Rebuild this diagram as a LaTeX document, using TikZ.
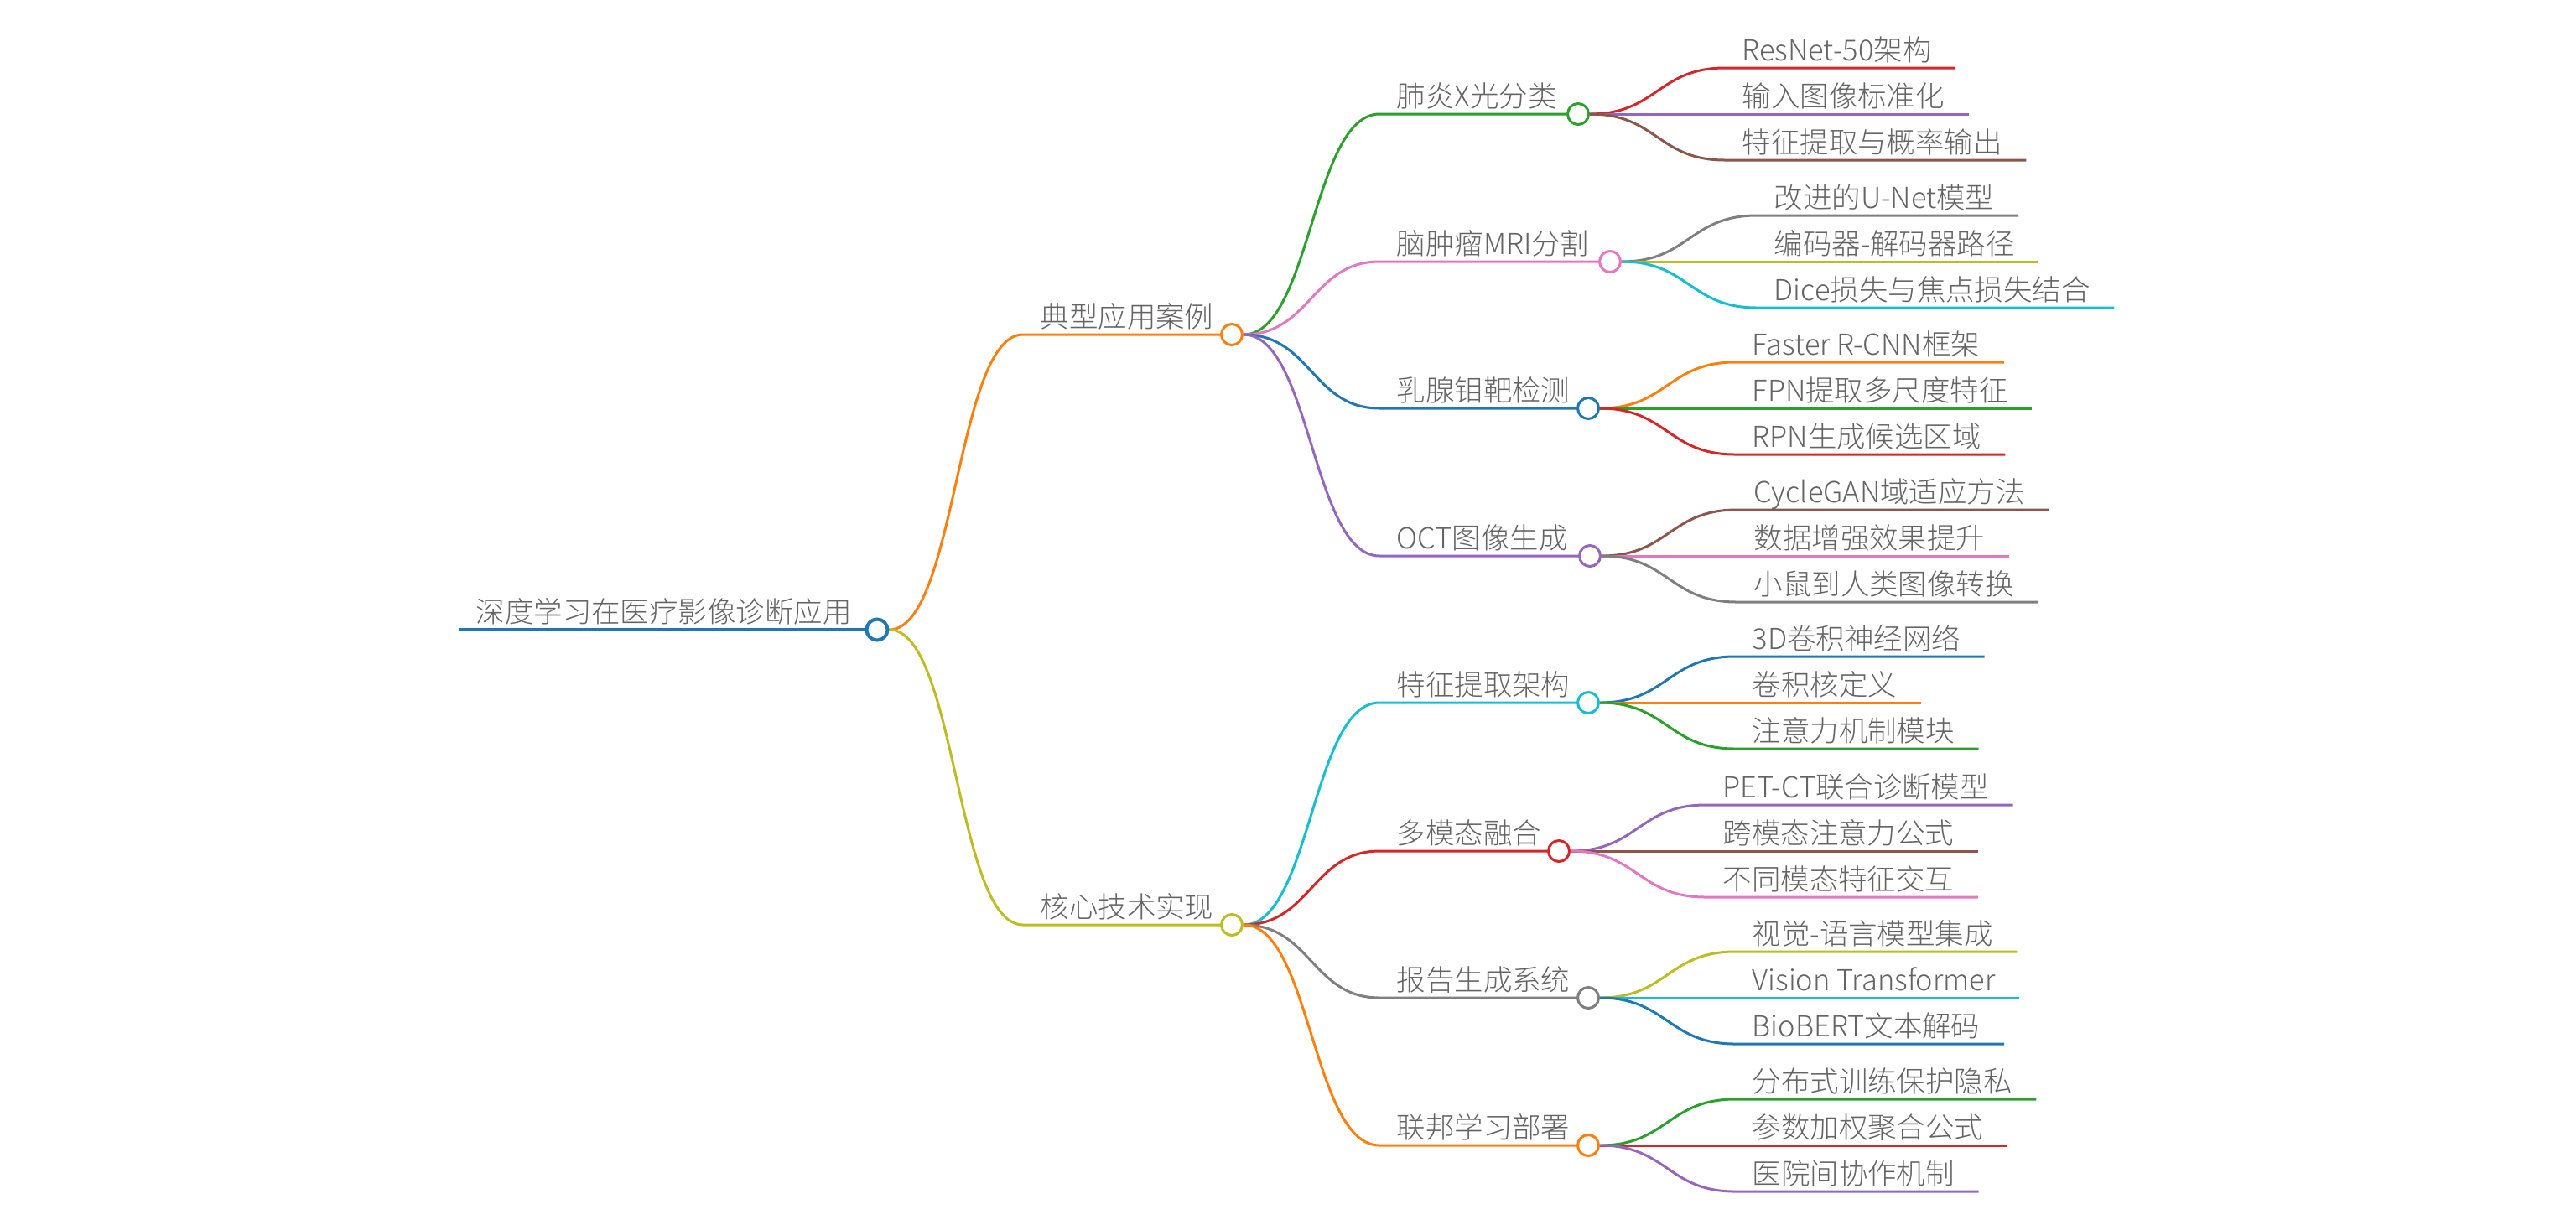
\documentclass[tikz,border=0pt]{standalone}
\usepackage{fontspec}
\setmainfont{Noto Sans CJK SC}[UprightFont={* Light}]
\usetikzlibrary{positioning, backgrounds}
\definecolor{MMBlue}{RGB}{31,119,180}
\definecolor{MMOrange}{RGB}{255,127,14}
\definecolor{MMGreen}{RGB}{44,160,44}
\definecolor{MMRed}{RGB}{214,39,40}
\definecolor{MMPurple}{RGB}{148,103,189}
\definecolor{MMBrown}{RGB}{140,86,75}
\definecolor{MMPink}{RGB}{227,119,194}
\definecolor{MMGray}{RGB}{127,127,127}
\definecolor{MMOlive}{RGB}{188,189,34}
\definecolor{MMCyan}{RGB}{23,190,207}
\definecolor{MMText}{RGB}{100,100,100}

\begin{document}
\begin{tikzpicture}[
	topic/.style={font=\fontsize{9.8}{11}\selectfont, text=MMText, inner xsep=0.2cm, inner ysep=0.08cm, text depth=0pt, anchor=south west},
	knob/.style={circle, draw=#1, fill=white, line width=0.03cm, minimum size=0.25cm, inner sep=0pt},
	twig/.style={line width=0.03cm},
	link/.style={to path={.. controls +(0.8,0) and +(-0.8,0) .. (\tikztotarget)}}]
	\useasboundingbox (0,0) rectangle (30.72,-14.60);

	\node[topic] (root) at (5.47,-7.51) {深度学习在医疗影像诊断应用};
	\node[knob=MMBlue, line width=0.04cm] (root-o) at (10.46,-7.51) {};

	\node[topic] (case) at (12.20,-3.99) {典型应用案例};
	\node[knob=MMOrange] (case-o) at (14.69,-3.99) {};
	\node[topic] (tech) at (12.20,-11.03) {核心技术实现};
	\node[knob=MMOlive] (tech-o) at (14.69,-11.03) {};

	\node[topic] (feiyan) at (16.45,-1.36) {肺炎X光分类};
	\node[knob=MMGreen] (feiyan-o) at (18.82,-1.36) {};
	\node[topic] (naoliu) at (16.45,-3.12) {脑肿瘤MRI分割};
	\node[knob=MMPink] (naoliu-o) at (19.20,-3.12) {};
	\node[topic] (ruxian) at (16.45,-4.87) {乳腺钼靶检测};
	\node[knob=MMBlue] (ruxian-o) at (18.94,-4.87) {};
	\node[topic] (oct) at (16.45,-6.63) {OCT图像生成};
	\node[knob=MMPurple] (oct-o) at (18.96,-6.63) {};
	\node[topic] (tezheng) at (16.45,-8.38) {特征提取架构};
	\node[knob=MMCyan] (tezheng-o) at (18.94,-8.38) {};
	\node[topic] (duomo) at (16.45,-10.15) {多模态融合};
	\node[knob=MMRed] (duomo-o) at (18.59,-10.15) {};
	\node[topic] (baogao) at (16.45,-11.90) {报告生成系统};
	\node[knob=MMGray] (baogao-o) at (18.94,-11.90) {};
	\node[topic] (lianbang) at (16.45,-13.66) {联邦学习部署};
	\node[knob=MMOrange] (lianbang-o) at (18.94,-13.66) {};

	\node[topic] (feiyan1) at (20.57,-0.81) {ResNet-50架构};
	\node[topic] (feiyan2) at (20.57,-1.36) {输入图像标准化};
	\node[topic] (feiyan3) at (20.57,-1.91) {特征提取与概率输出};
	\node[topic] (naoliu1) at (20.95,-2.57) {改进的U-Net模型};
	\node[topic] (naoliu2) at (20.95,-3.12) {编码器-解码器路径};
	\node[topic] (naoliu3) at (20.95,-3.67) {Dice损失与焦点损失结合};
	\node[topic] (ruxian1) at (20.69,-4.32) {Faster R-CNN框架};
	\node[topic] (ruxian2) at (20.69,-4.87) {FPN提取多尺度特征};
	\node[topic] (ruxian3) at (20.69,-5.42) {RPN生成候选区域};
	\node[topic] (oct1) at (20.71,-6.08) {CycleGAN域适应方法};
	\node[topic] (oct2) at (20.71,-6.63) {数据增强效果提升};
	\node[topic] (oct3) at (20.71,-7.18) {小鼠到人类图像转换};
	\node[topic] (tezheng1) at (20.69,-7.83) {3D卷积神经网络};
	\node[topic] (tezheng2) at (20.69,-8.38) {卷积核定义};
	\node[topic] (tezheng3) at (20.69,-8.93) {注意力机制模块};
	\node[topic] (duomo1) at (20.34,-9.60) {PET-CT联合诊断模型};
	\node[topic] (duomo2) at (20.34,-10.15) {跨模态注意力公式};
	\node[topic] (duomo3) at (20.34,-10.70) {不同模态特征交互};
	\node[topic] (baogao1) at (20.69,-11.35) {视觉-语言模型集成};
	\node[topic] (baogao2) at (20.69,-11.90) {Vision Transformer};
	\node[topic] (baogao3) at (20.69,-12.45) {BioBERT文本解码};
	\node[topic] (lianbang1) at (20.69,-13.11) {分布式训练保护隐私};
	\node[topic] (lianbang2) at (20.69,-13.66) {参数加权聚合公式};
	\node[topic] (lianbang3) at (20.69,-14.21) {医院间协作机制};

	\begin{scope}[on background layer]
		\draw[MMBlue, line width=0.04cm] (root.south west) -- (root-o.center);
		\foreach \src/\dst/\col in {root/case/MMOrange, root/tech/MMOlive,
			case/feiyan/MMGreen, case/naoliu/MMPink, case/ruxian/MMBlue, case/oct/MMPurple,
			tech/tezheng/MMCyan, tech/duomo/MMRed, tech/baogao/MMGray, tech/lianbang/MMOrange}
			\draw[twig, \col] (\src-o.east) to[link] (\dst.south west) -- (\dst-o.center);
		\foreach \src/\dst/\col in {feiyan/feiyan1/MMRed, feiyan/feiyan2/MMPurple, feiyan/feiyan3/MMBrown,
			naoliu/naoliu1/MMGray, naoliu/naoliu2/MMOlive, naoliu/naoliu3/MMCyan,
			ruxian/ruxian1/MMOrange, ruxian/ruxian2/MMGreen, ruxian/ruxian3/MMRed,
			oct/oct1/MMBrown, oct/oct2/MMPink, oct/oct3/MMGray,
			tezheng/tezheng1/MMBlue, tezheng/tezheng2/MMOrange, tezheng/tezheng3/MMGreen,
			duomo/duomo1/MMPurple, duomo/duomo2/MMBrown, duomo/duomo3/MMPink,
			baogao/baogao1/MMOlive, baogao/baogao2/MMCyan, baogao/baogao3/MMBlue,
			lianbang/lianbang1/MMGreen, lianbang/lianbang2/MMRed, lianbang/lianbang3/MMPurple}
			\draw[twig, \col] (\src-o.east) to[link] (\dst.south west) -- ([xshift=0.08cm]\dst.south east);
	\end{scope}
\end{tikzpicture}
\end{document}
